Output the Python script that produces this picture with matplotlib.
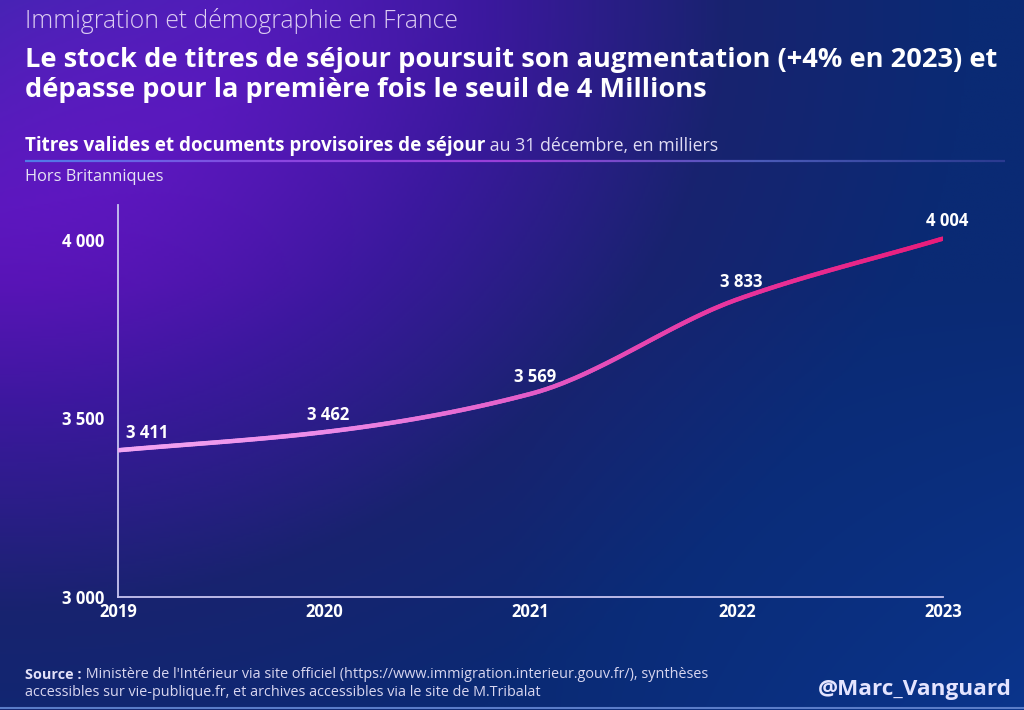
import numpy as np
import matplotlib
matplotlib.use("Agg")
import matplotlib.pyplot as plt
from matplotlib.collections import LineCollection
from matplotlib.colors import LinearSegmentedColormap

# ── Données (en milliers) ────────────────────────────────
annees = [2019, 2020, 2021, 2022, 2023]
stock = [3411, 3462, 3569, 3833, 4004]
etiquettes = ["3 411", "3 462", "3 569", "3 833", "4 004"]
yticks = [3000, 3500, 4000]
ytick_labels = ["3 000", "3 500", "4 000"]

W, H = 1024, 710
plt.rcParams["font.family"] = ["Open Sans", "DejaVu Sans"]

fig = plt.figure(figsize=(W / 100, H / 100), dpi=100)

# ── Fond dégradé (violet en haut à gauche -> bleu nuit) ──
bg = fig.add_axes([0, 0, 1, 1])
xx, yy = np.meshgrid(np.linspace(0, 1, 400), np.linspace(0, 1, 300))
t = np.clip(np.sqrt((xx / 0.95) ** 2 + (yy / 1.15) ** 2), 0, 1)
fond = LinearSegmentedColormap.from_list(
    "fond", [(0, "#860ed6"), (0.25, "#6a12c6"), (0.5, "#3c189e"),
             (0.75, "#18236f"), (1, "#0a2a74")])
img = fond(t)
# léger éclaircissement bleu en bas à droite
blue = np.clip((xx - 0.5) * (yy - 0.4) * 2.5, 0, 1)[..., None]
img[..., :3] = img[..., :3] * (1 - blue) + np.array([0.04, 0.22, 0.58]) * blue
bg.imshow(img, extent=[0, 1, 0, 1], origin="upper", aspect="auto")
bg.set_xlim(0, 1)
bg.set_ylim(0, 1)
bg.axis("off")

# bordure basse
bg.plot([0, 1], [2 / H, 2 / H], color="#5a7cc8", lw=1.5)

# ligne de séparation sous le sous-titre
sep = np.linspace(25 / W, 1005 / W, 200)
pts = np.column_stack([sep, np.full_like(sep, 1 - 161 / H)])
segs = np.stack([pts[:-1], pts[1:]], axis=1)
sep_cmap = LinearSegmentedColormap.from_list(
    "sep", ["#4f7ae8", "#8a45e0", "#9a3ed8", "#4a5ab8", "#2a3a90"])
lc_sep = LineCollection(segs, colors=sep_cmap(np.linspace(0, 1, len(segs))),
                        linewidths=1.6)
bg.add_collection(lc_sep)

# ── Textes d'en-tête ─────────────────────────────────────
fig.text(25 / W, 1 - 21 / H, "Immigration et démographie en France",
         fontsize=17.8, color="#dccdf2", va="center", fontweight="light")
fig.text(25 / W, 1 - 75 / H,
         "Le stock de titres de séjour poursuit son augmentation (+4% en 2023) et\n"
         "dépasse pour la première fois le seuil de 4 Millions",
         fontsize=19.6, color="white", va="center", fontweight="bold",
         linespacing=1.22)
t1 = fig.text(25 / W, 1 - 146 / H, "Titres valides et documents provisoires de séjour",
              fontsize=13.6, color="white", va="center", fontweight="bold")
bg.annotate(" au 31 décembre, en milliers", xy=(1, 0.5), xycoords=t1,
            va="center", ha="left", fontsize=12.8, color="#e0dcf4")
fig.text(25 / W, 1 - 177 / H, "Hors Britanniques",
         fontsize=11.8, color="#e6e4f4", va="center")

# ── Graphique ────────────────────────────────────────────
ax = fig.add_axes([118 / W, 1 - 597 / H, (943 - 118) / W, (597 - 205) / H])
ax.patch.set_alpha(0)
ax.set_xlim(2019, 2023)
ax.set_ylim(3000, 4098)


def pchip(x, y, xn):
    # interpolation monotone (Fritsch-Carlson) pour un tracé lissé
    x = np.asarray(x, float)
    y = np.asarray(y, float)
    h = np.diff(x)
    d = np.diff(y) / h
    m = np.zeros_like(y)
    m[0], m[-1] = d[0], d[-1]
    for k in range(1, len(x) - 1):
        if d[k - 1] * d[k] > 0:
            w1 = 2 * h[k] + h[k - 1]
            w2 = h[k] + 2 * h[k - 1]
            m[k] = (w1 + w2) / (w1 / d[k - 1] + w2 / d[k])
    idx = np.clip(np.searchsorted(x, xn) - 1, 0, len(x) - 2)
    s = (xn - x[idx]) / h[idx]
    h00 = 2 * s**3 - 3 * s**2 + 1
    h10 = s**3 - 2 * s**2 + s
    h01 = -2 * s**3 + 3 * s**2
    h11 = s**3 - s**2
    return (h00 * y[idx] + h10 * h[idx] * m[idx]
            + h01 * y[idx + 1] + h11 * h[idx] * m[idx + 1])


xs = np.linspace(annees[0], annees[-1], 400)
ys = pchip(annees, stock, xs)
p = np.column_stack([xs, ys])
segments = np.stack([p[:-1], p[1:]], axis=1)
ligne_cmap = LinearSegmentedColormap.from_list(
    "ligne", ["#f2a6f2", "#ec8ae8", "#e35cc8", "#e8349e", "#e81c7a"])
lc = LineCollection(segments, colors=ligne_cmap(np.linspace(0, 1, len(segments))),
                    linewidths=3.2, capstyle="round", zorder=3)
ax.add_collection(lc)

for i, (x, y, lab) in enumerate(zip(annees, stock, etiquettes)):
    ha = "left" if i == 0 else "center"
    dx = 6 if i == 0 else 3
    ax.annotate(lab, xy=(x, y), xytext=(dx, 6), textcoords="offset points",
                ha=ha, va="bottom", fontsize=12, fontweight="bold",
                color="white", zorder=4)

for side in ["top", "right"]:
    ax.spines[side].set_visible(False)
for side in ["left", "bottom"]:
    ax.spines[side].set_color("#c8c4f0")
    ax.spines[side].set_linewidth(1.3)

ax.set_xticks(annees)
ax.set_xticklabels([str(a) for a in annees])
ax.set_yticks(yticks)
ax.set_yticklabels(ytick_labels)
ax.tick_params(length=0, colors="white", labelsize=12)
ax.tick_params(axis="x", pad=4)
ax.tick_params(axis="y", pad=10)
for lab in ax.get_xticklabels() + ax.get_yticklabels():
    lab.set_fontweight("bold")

# ── Pied de page ─────────────────────────────────────────
src = fig.text(25 / W, 1 - 675 / H, "Source :", fontsize=10.4,
               color="#e2e0f8", va="center", fontweight="bold")
bg.annotate(" Ministère de l'Intérieur via site officiel "
            "(https://www.immigration.interieur.gouv.fr/), synthèses",
            xy=(1, 0.5), xycoords=src, va="center", ha="left",
            fontsize=10.4, color="#d8d6f0")
fig.text(25 / W, 1 - 692 / H,
         "accessibles sur vie-publique.fr, et archives accessibles via le site de M.Tribalat",
         fontsize=10.4, color="#d8d6f0", va="center")
fig.text(1012 / W, 1 - 690 / H, "@Marc_Vanguard", fontsize=16.2,
         color="#e4e4ff", va="center", ha="right", fontweight="bold")

fig.savefig("out.png", dpi=100)
